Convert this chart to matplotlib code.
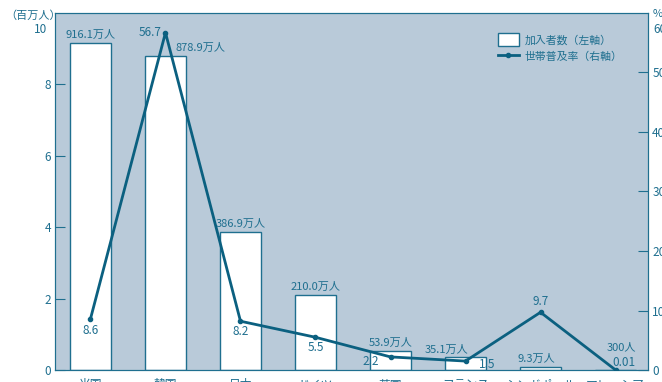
import matplotlib.pyplot as plt

plt.rcParams['font.family'] = ['Noto Sans CJK JP', 'DejaVu Sans']

countries = ["米国", "韓国", "日本", "ドイツ", "英国", "フランス", "シンガポール", "マレーシア"]
subscribers = [9.161, 8.789, 3.869, 2.100, 0.539, 0.351, 0.093, 0.0003]  # 百万人
sub_labels = ["916.1万人", "878.9万人", "386.9万人", "210.0万人", "53.9万人", "35.1万人", "9.3万人", "300人"]
rates = [8.6, 56.7, 8.2, 5.5, 2.2, 1.5, 9.7, 0.01]  # %
rate_labels = ["8.6", "56.7", "8.2", "5.5", "2.2", "1.5", "9.7", "0.01"]

TEAL = "#1f6f8f"
LINE = "#0b6080"
BG = "#b9cad9"

fig = plt.figure(figsize=(6.62, 3.82), dpi=100)
ax = fig.add_axes([55 / 662, 12 / 382, 593 / 662, 357 / 382])
ax.set_facecolor(BG)
x = list(range(len(countries)))

ax.bar(x, subscribers, width=0.55, color="white", edgecolor=TEAL, linewidth=1.0,
       label="加入者数（左軸）", zorder=2)
ax.set_xlim(-0.473, 7.433)
ax.set_ylim(0, 10)
ax.set_yticks([0, 2, 4, 6, 8])
ax.text(-0.013, 0.955, "10", color=TEAL, fontsize=8.5, ha="right", va="center", transform=ax.transAxes)
fig.text(5 / 662, 1 - 16 / 382, "（百万人）", color=TEAL, fontsize=8, ha="left", va="center")
ax.set_xticks(x)
ax.set_xticklabels(countries)

# 棒グラフの値ラベル
sub_dx = [0, 0.47, 0, 0, 0, -0.25, -0.05, 0.08]
sub_y = [v + 0.08 for v in subscribers]
sub_y[7] = 0.5
for i, s in enumerate(sub_labels):
    ax.text(i + sub_dx[i], sub_y[i], s, color=TEAL, fontsize=8, ha="center", va="bottom", zorder=4)

ax2 = ax.twinx()
ax2.set_ylim(0, 60)
ax2.set_yticks([0, 10, 20, 30, 40, 50])
ax2.text(1.009, 0.955, "60", color=TEAL, fontsize=8.5, ha="left", va="center", transform=ax2.transAxes)
ax2.text(1.007, 0.997, "%", color=TEAL, fontsize=8, ha="left", va="center", transform=ax2.transAxes)
ax2.plot(x, rates, color=LINE, linewidth=2, marker="o", markersize=3,
         label="世帯普及率（右軸）", zorder=3)

# 折れ線の値ラベル
offsets = [(0, -1.9), (-0.05, 0), (0, -1.8), (0, -1.7), (-0.26, -0.7), (0.29, -0.5), (0, 1.8), (0.11, 1.2)]
aligns = ["center", "right", "center", "center", "center", "center", "center", "center"]
for i, (v, s) in enumerate(zip(rates, rate_labels)):
    dx, dy = offsets[i]
    ax2.text(i + dx, v + dy, s, color=TEAL, fontsize=8.5, ha=aligns[i], va="center", zorder=5)

for a in (ax, ax2):
    for sp in a.spines.values():
        sp.set_color(TEAL)
    a.tick_params(colors=TEAL, labelsize=8.5, direction="in", length=7)
ax.tick_params(axis="x", length=0, pad=6, labelsize=8.5)
ax.tick_params(axis="y", pad=3)
ax2.tick_params(axis="y", pad=3)

h1, l1 = ax.get_legend_handles_labels()
h2, l2 = ax2.get_legend_handles_labels()
leg = ax2.legend(h1 + h2, l1 + l2, loc="upper left", bbox_to_anchor=(0.73, 0.97), frameon=False,
                 fontsize=7.8, handlelength=2.0, handleheight=1.4, handletextpad=0.5, labelspacing=0.4)
for t in leg.get_texts():
    t.set_color(TEAL)

fig.savefig("out.png", dpi=100)
